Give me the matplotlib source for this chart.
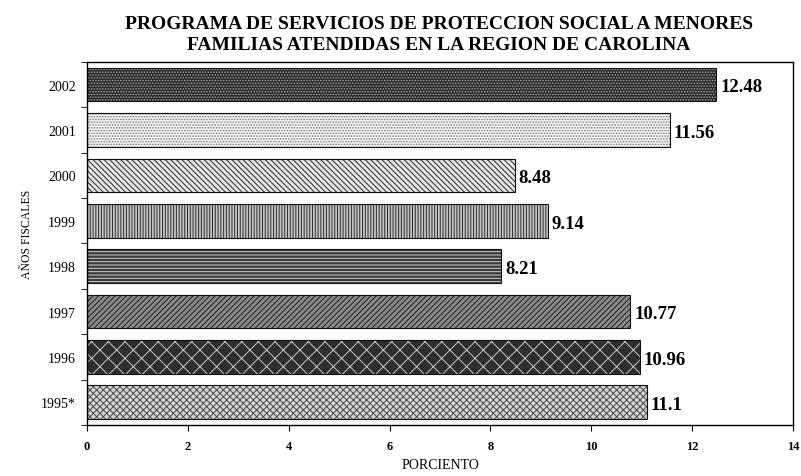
import matplotlib
matplotlib.use("Agg")
import matplotlib.pyplot as plt
import numpy as np

# Datos (de abajo hacia arriba)
anios = ["1995*", "1996", "1997", "1998", "1999", "2000", "2001", "2002"]
porciento = [11.1, 10.96, 10.77, 8.21, 9.14, 8.48, 11.56, 12.48]
etiquetas = ["11.1", "10.96", "10.77", "8.21", "9.14", "8.48", "11.56", "12.48"]

# relleno, color de trama, trama
fondos = ["#d4d4d4", "#2e2e2e", "#8a8a8a", "#3c3c3c", "#c4c4c4", "#e4e4e4", "#f0f0f0", "#2a2a2a"]
trama_col = ["#4a4a4a", "#c8c8c8", "#1e1e1e", "#d0d0d0", "#2e2e2e", "#2a2a2a", "#7a7a7a", "#a8a8a8"]
tramas = ["xxxxx", "xx", "//////", "-----", "||||||", "\\\\\\\\\\\\", "......", "......"]

plt.rcParams["font.family"] = ["Liberation Serif", "DejaVu Serif"]
plt.rcParams["hatch.linewidth"] = 0.7

fig = plt.figure(figsize=(8.01, 4.77), dpi=100)
ax = fig.add_axes([0.1086, 0.107, 0.8814, 0.761])

y = np.arange(len(anios))
barras = ax.barh(y, porciento, height=0.74, color=fondos, edgecolor=trama_col, linewidth=0)
for b, t in zip(barras, tramas):
    b.set_hatch(t)
# borde de las barras
ax.barh(y, porciento, height=0.74, fill=False, edgecolor="#111111", linewidth=0.8)

for yi, v, txt in zip(y, porciento, etiquetas):
    ax.text(v + 0.08, yi - 0.05, txt, va="center", ha="left", fontsize=13.5, fontweight="bold")

ax.set_xlim(0, 14)
ax.set_ylim(-0.47, 7.47)
ax.set_xticks(np.arange(0, 15, 2))
ax.set_xticklabels([str(v) for v in range(0, 15, 2)], fontsize=9, fontweight="bold")
ax.set_yticks(y)
ax.set_yticklabels(anios, fontsize=10)
ax.tick_params(axis="y", length=0, pad=8)
ax.set_yticks(np.arange(-0.5, 8, 1), minor=True)
ax.tick_params(axis="y", which="minor", length=4, direction="out")
ax.tick_params(axis="x", length=4, direction="out", pad=7)

ax.set_xlabel("PORCIENTO", fontsize=10)
ax.set_ylabel("AÑOS FISCALES", fontsize=8.5)
ax.xaxis.set_label_coords(0.5, -0.092)
ax.yaxis.set_label_coords(-0.0765, 0.529)

fig.suptitle("PROGRAMA DE SERVICIOS DE PROTECCION SOCIAL A MENORES\nFAMILIAS ATENDIDAS EN LA REGION DE CAROLINA",
             fontsize=14, fontweight="bold", y=0.967, x=0.548, linespacing=1.35)

for s in ax.spines.values():
    s.set_linewidth(1.0)

fig.savefig("out.png", dpi=100)
